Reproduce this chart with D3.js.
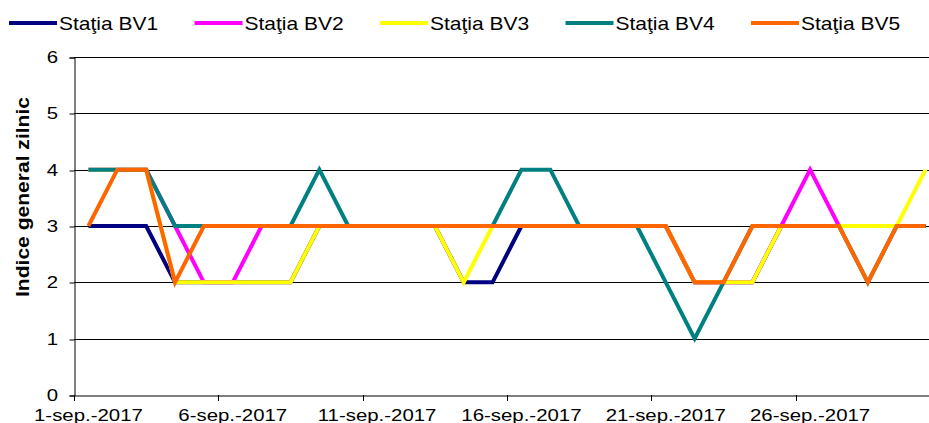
<!DOCTYPE html>
<html>
<head>
<meta charset="utf-8">
<script src="https://cdn.jsdelivr.net/npm/d3@7"></script>
<style>
  body { margin: 0; background: #fff; overflow: hidden; }
  svg { display: block; font-family: "Liberation Sans", Arial, sans-serif; }
</style>
</head>
<body>
<svg id="chart" width="929" height="423"></svg>
<script>
// zilele lunii septembrie 2017
let days = d3.range(1, 31)
let tickDays = [1, 6, 11, 16, 21, 26]
let tickLabels = ["1-sep.-2017", "6-sep.-2017", "11-sep.-2017", "16-sep.-2017", "21-sep.-2017", "26-sep.-2017"]

let names = ["Staţia BV1", "Staţia BV2", "Staţia BV3", "Staţia BV4", "Staţia BV5"]
let colors = ["#000080", "#ff00ff", "#ffff00", "#008080", "#ff6600"]

let bv1 = [3,3,3,2,2,2,2,2,3,3,3,3,3,2,2,3,3,3,3,3,3,2,2,2,3,3,3,3,3,3]
let bv2 = [4,4,4,3,2,2,3,3,3,3,3,3,3,3,3,3,3,3,3,3,3,2,2,2,3,4,3,3,3,3]
let bv3 = [4,4,4,2,2,2,2,2,3,3,3,3,3,2,3,3,3,3,3,3,3,2,2,2,3,3,3,3,3,4]
let bv4 = [4,4,4,3,3,3,3,3,4,3,3,3,3,3,3,4,4,3,3,3,2,1,2,3,3,3,3,2,3,3]
let bv5 = [3,4,4,2,3,3,3,3,3,3,3,3,3,3,3,3,3,3,3,3,3,2,2,3,3,3,3,2,3,3]

let series = [bv1, bv2, bv3, bv4, bv5]
let yTicks = [0, 1, 2, 3, 4, 5, 6]

let svg = d3.select("#chart")
let stretch = 1.2   // textul din original e lăţit pe orizontală

let x = d3.scaleBand()
      .domain(days)
      .range([74, 940])
      .padding(0)

let y = d3.scaleLinear()
      .domain([0, 6])
      .range([395, 57])

let cx = d => x(d) + x.bandwidth()/2

// stretched text helper
function wideText(sel, px, py, txt, anchor, size) {
  sel.append("text")
    .attr("transform", `translate(${px},${py}) scale(${stretch},1)`)
    .attr("text-anchor", anchor)
    .attr("font-size", size)
    .attr("fill", "#000")
    .text(txt)
}

// gridlines
svg.append("g")
  .selectAll("line")
  .data(yTicks.filter(v => v > 0))
  .enter()
  .append("line")
    .attr("x1", 74)
    .attr("x2", 940)
    .attr("y1", d => Math.round(y(d)) + 0.5)
    .attr("y2", d => Math.round(y(d)) + 0.5)
    .attr("stroke", "#000")
    .attr("stroke-width", 1)

// y axis
let yAxis = svg.append("g")
  .attr("transform", "translate(74.5,0.5)")
  .call(d3.axisLeft(y).tickValues(yTicks).tickSize(5).tickFormat(""))
yAxis.select(".domain").attr("stroke", "#000")
yAxis.selectAll("line").attr("stroke", "#000")
yAxis.selectAll("line").attr("transform", d => `translate(0,${Math.round(y(d)) - y(d)})`)

yTicks.forEach(v => wideText(svg, 58, y(v) + 6, String(v), "end", "17px"))

// x axis
let xAxis = svg.append("g")
  .attr("transform", "translate(0,395.5)")
  .call(d3.axisBottom(x).tickValues([]).tickSizeOuter(0))
xAxis.select(".domain").attr("stroke", "#000")

svg.append("g")
  .selectAll("line")
  .data(tickDays)
  .enter()
  .append("line")
    .attr("x1", d => Math.round(x(d)) + 0.5)
    .attr("x2", d => Math.round(x(d)) + 0.5)
    .attr("y1", 395)
    .attr("y2", 401)
    .attr("stroke", "#000")

tickDays.forEach((d, i) => wideText(svg, cx(d), 421, tickLabels[i], "middle", "17px"))

// axis title
svg.append("text")
  .attr("transform", "translate(29,197) rotate(-90)")
  .attr("text-anchor", "middle")
  .attr("font-size", "18px")
  .attr("font-weight", "bold")
  .attr("textLength", 200)
  .attr("lengthAdjust", "spacingAndGlyphs")
  .text("Indice general zilnic")

// lines
let line = d3.line()
  .x((d, i) => cx(days[i]))
  .y(d => y(d))

svg.append("g")
  .selectAll("path")
  .data(series)
  .enter()
  .append("path")
    .attr("d", d => line(d))
    .attr("fill", "none")
    .attr("stroke", (d, i) => colors[i])
    .attr("stroke-width", 4)
    .attr("stroke-linejoin", "miter")

// legend
let legend = svg.append("g")
  .selectAll("g")
  .data(names)
  .enter()
  .append("g")
    .attr("transform", (d, i) => `translate(${9 + i*185.5},0)`)

legend.append("line")
  .attr("x1", 0)
  .attr("x2", 48)
  .attr("y1", 23)
  .attr("y2", 23)
  .attr("stroke", (d, i) => colors[i])
  .attr("stroke-width", 4)

legend.each(function(d) {
  wideText(d3.select(this), 50, 29.5, d, "start", "17.5px")
})
</script>
</body>
</html>
